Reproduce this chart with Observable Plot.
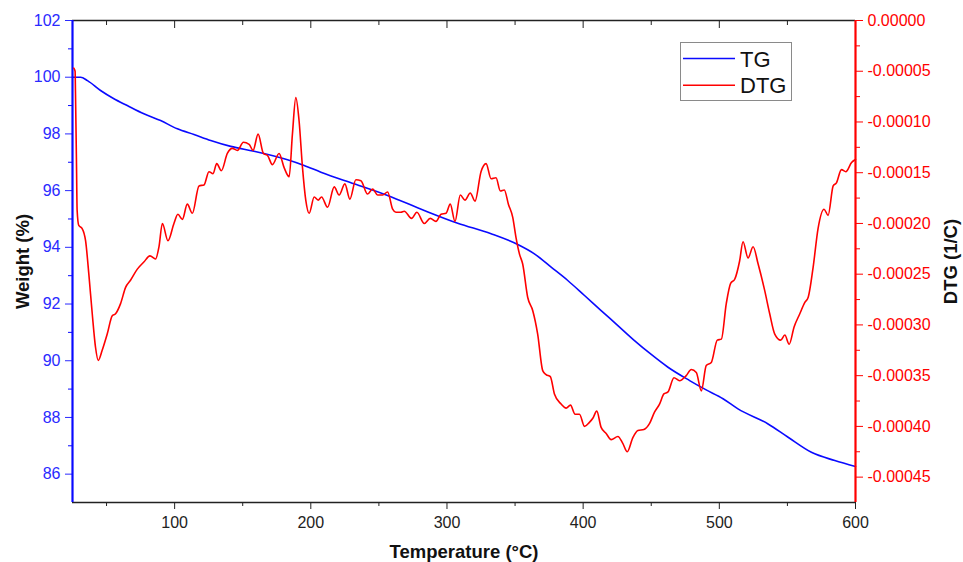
<!DOCTYPE html>
<html>
<head>
<meta charset="utf-8">
<script src="https://cdn.jsdelivr.net/npm/d3@7"></script>
<script src="https://cdn.jsdelivr.net/npm/@observablehq/plot@0.6"></script>
<style>
  body { margin: 0; background: #fff; font-family: "Liberation Sans", Arial, sans-serif; }
  #wrap { position: relative; width: 963px; height: 562px; overflow: hidden; }
  #wrap > svg { position: absolute; left: 0; top: 0; }
  #legend { position: absolute; left: 680px; top: 42px; width: 112px; height: 59px; }
</style>
</head>
<body>
<div id="wrap"></div>
<script>
// ---- data ----
const tempDomain = [25, 600];
const weightDomain = [85, 102];
const dtgDomain = [-0.000475, 0];

const tempTicks = [100, 200, 300, 400, 500, 600];
const tempMinor = [50, 150, 250, 350, 450, 550];
const weightTicks = [86, 88, 90, 92, 94, 96, 98, 100, 102];
const weightMinor = [87, 89, 91, 93, 95, 97, 99, 101];
const dtgTicks = [0, -0.00005, -0.0001, -0.00015, -0.0002, -0.00025, -0.0003, -0.00035, -0.0004, -0.00045];
const dtgMinor = [-0.000025, -0.000075, -0.000125, -0.000175, -0.000225, -0.000275, -0.000325, -0.000375, -0.000425];

const seriesNames = ["TG", "DTG"];

// TG: weight (%) vs temperature (°C)
const tgTemp = [25, 31, 36, 45.6, 55.4, 65.2, 77.4, 89.7, 102, 114.2, 126.5, 141.2, 158.3, 182.9, 195.1, 207.4,
  231.8, 256.4, 283.3, 307.9, 332.4, 352, 364.2, 376.5, 388.7, 401, 413.2, 425.5, 437.7, 450, 462.3, 478.2,
  490, 502.7, 513.7, 535.8, 550.5, 567.6, 584.8, 600];
const tgWeight = [100, 100, 99.88, 99.53, 99.24, 99.0, 98.71, 98.47, 98.18, 97.98, 97.77, 97.56, 97.39, 97.09, 96.89, 96.65,
  96.24, 95.83, 95.3, 94.85, 94.48, 94.1, 93.77, 93.3, 92.83, 92.3, 91.77, 91.24, 90.71, 90.22, 89.77, 89.3,
  88.98, 88.66, 88.3, 87.77, 87.3, 86.77, 86.48, 86.27];

// DTG: 1/C vs temperature (°C)
const dtgTemp = [26.0, 26.9, 27.2, 27.9, 28.4, 29.6, 32.1, 34.6, 37.0, 39.5, 41.9, 43.9, 46.8, 50.5, 54.2, 56.6,
  60.3, 64.0, 67.6, 72.6, 77.4, 81.9, 86.0, 88.5, 91.0, 95.1, 99.5, 102.4, 105.7, 109.3, 113.0, 117.9,
  121.6, 125.2, 128.2, 130.9, 134.3, 138.7, 142.4, 146.1, 150.5, 154.7, 157.6, 161.3, 165.2, 168.2, 171.8,
  176.7, 180.4, 184.1, 186.5, 189.0, 191.4, 193.9, 196.3, 198.8, 202.5, 205.4, 207.9, 212.3, 217.2, 220.8,
  225.0, 228.7, 233.1, 236.8, 241.7, 245.4, 249.0, 252.7, 256.4, 260.1, 262.5, 266.2, 268.6, 274.0, 277.9,
  283.3, 287.7, 291.9, 295.6, 299.3, 302.4, 305.9, 309.8, 313.2, 317.1, 320.6, 325.0, 328.7, 332.4, 336.0,
  339.2, 342.1, 345.1, 348.3, 350.7, 353.2, 355.6, 359.3, 363.0, 366.6, 370.3, 372.8, 375.9, 378.9, 383.8,
  387.5, 390.7, 394.1, 397.3, 401.0, 404.6, 407.1, 410.0, 413.2, 416.9, 420.6, 425.5, 429.2, 432.4, 436.5,
  440.2, 444.6, 448.8, 452.4, 456.1, 459.3, 462.3, 466.7, 470.8, 475.7, 479.4, 483.1, 486.8, 490.4, 494.1,
  498.5, 501.5, 505.1, 508.3, 511.3, 514.9, 517.4, 521.1, 524.8, 528.5, 533.3, 537.0, 540.7, 545.1, 548.1,
  551.3, 554.9, 559.1, 562.7, 565.2, 568.9, 572.5, 576.9, 579.9, 583.6, 586.0, 589.7, 592.9, 597.1, 600.0];
const dtgValue = [-4.7e-5, -5.0e-5, -7.2e-5, -13.8e-5, -18.7e-5, -20.2e-5, -20.5e-5, -21.7e-5, -25.0e-5, -28.9e-5, -32.2e-5, -33.5e-5, -32.5e-5, -30.9e-5, -29.1e-5, -28.9e-5,
  -27.9e-5, -26.3e-5, -25.6e-5, -24.5e-5, -23.8e-5, -23.2e-5, -23.5e-5, -22.3e-5, -20.0e-5, -21.7e-5, -20.0e-5, -19.1e-5, -19.6e-5, -18.1e-5, -19.0e-5, -16.3e-5,
  -16.2e-5, -14.9e-5, -15.1e-5, -14.1e-5, -14.8e-5, -13.1e-5, -12.6e-5, -12.8e-5, -12.0e-5, -12.2e-5, -12.8e-5, -11.2e-5, -13.1e-5, -13.3e-5, -14.2e-5,
  -13.1e-5, -14.5e-5, -15.4e-5, -11.2e-5, -7.6e-5, -9.9e-5, -14.5e-5, -17.7e-5, -19.0e-5, -17.4e-5, -17.7e-5, -17.4e-5, -18.4e-5, -16.4e-5, -17.2e-5,
  -16.1e-5, -17.6e-5, -15.7e-5, -15.8e-5, -17.1e-5, -16.6e-5, -17.2e-5, -17.2e-5, -16.9e-5, -18.6e-5, -18.9e-5, -18.9e-5, -18.8e-5, -19.5e-5, -18.9e-5,
  -20.0e-5, -19.5e-5, -19.8e-5, -19.1e-5, -19.0e-5, -18.1e-5, -19.8e-5, -17.2e-5, -17.7e-5, -17.0e-5, -17.8e-5, -14.9e-5, -14.1e-5, -15.6e-5, -15.5e-5,
  -16.8e-5, -16.7e-5, -18.1e-5, -19.4e-5, -21.4e-5, -23.0e-5, -24.0e-5, -27.3e-5, -28.6e-5, -30.9e-5, -34.5e-5, -34.9e-5, -35.1e-5, -36.8e-5, -37.8e-5,
  -38.2e-5, -37.9e-5, -38.8e-5, -38.8e-5, -40.0e-5, -39.6e-5, -39.2e-5, -38.5e-5, -40.1e-5, -40.7e-5, -41.3e-5, -41.0e-5, -41.7e-5, -42.5e-5, -41.1e-5,
  -40.4e-5, -40.3e-5, -39.7e-5, -38.6e-5, -37.8e-5, -36.8e-5, -36.6e-5, -35.2e-5, -35.5e-5, -35.0e-5, -34.4e-5, -34.7e-5, -36.5e-5, -34.0e-5, -33.7e-5,
  -31.5e-5, -31.4e-5, -27.9e-5, -25.9e-5, -25.5e-5, -23.7e-5, -21.8e-5, -23.4e-5, -22.3e-5, -24.0e-5, -26.6e-5, -28.9e-5, -30.9e-5, -31.5e-5, -31.0e-5,
  -31.9e-5, -30.2e-5, -28.9e-5, -27.8e-5, -27.3e-5, -24.3e-5, -20.5e-5, -18.6e-5, -19.2e-5, -16.3e-5, -16.0e-5, -14.7e-5, -14.9e-5, -14.0e-5, -13.7e-5];

// ---- styling ----
const blue = "#0a0aff", blueText = "#2a2aff", red = "#ff0000", dark = "#222222";
const font = '"Liberation Sans", Arial, sans-serif';
const frame = {width: 963, height: 562, marginLeft: 72, marginRight: 108, marginTop: 20, marginBottom: 60};
const fmtDtg = v => { const r = Math.round(v * 1e5) / 1e5; return r === 0 ? "0.00000" : r.toFixed(5); };
const blank = () => "";

const chartA = Plot.plot({
  ...frame,
  style: {fontFamily: font, fontSize: "16px", background: "white", overflow: "visible"},
  x: {domain: tempDomain},
  y: {domain: weightDomain},
  marks: [
    Plot.axisX({ticks: tempTicks, tickSize: 7, tickPadding: 7, tickFormat: d => String(d), label: null, color: dark, fontSize: 16}),
    Plot.axisX({ticks: tempMinor, tickSize: 4, tickFormat: blank, label: null, color: dark}),
    Plot.axisX({anchor: "top", ticks: tempTicks, tickSize: 7, insetTop: 7, tickFormat: blank, label: null, color: dark}),
    Plot.axisX({anchor: "top", ticks: tempMinor, tickSize: 4, insetTop: 4, tickFormat: blank, label: null, color: dark}),
    Plot.axisY({ticks: weightTicks, tickSize: 7, tickPadding: 5, tickFormat: d => String(d), label: null, color: blueText, fontSize: 16}),
    Plot.axisY({ticks: weightMinor, tickSize: 4, tickFormat: blank, label: null, color: blue}),
    Plot.ruleY([weightDomain[0]], {stroke: dark, strokeWidth: 1.6}),
    Plot.ruleY([weightDomain[1]], {stroke: dark, strokeWidth: 1.6}),
    Plot.ruleX([tempDomain[0]], {stroke: blue, strokeWidth: 2.2}),
    Plot.line(tgTemp, {x: tgTemp, y: tgWeight, stroke: blue, strokeWidth: 1.6, curve: "monotone-x"}),
    Plot.text(["Temperature (°C)"], {frameAnchor: "bottom", dy: 50, lineAnchor: "middle", textAnchor: "middle", fontWeight: "bold", fontSize: 18.5, fill: "#111"}),
    Plot.text(["Weight (%)"], {frameAnchor: "left", dx: -49, rotate: -90, lineAnchor: "middle", textAnchor: "middle", fontWeight: "bold", fontSize: 18.5, fill: "#111"})
  ]
});

const chartB = Plot.plot({
  ...frame,
  style: {fontFamily: font, fontSize: "16px", background: "transparent", overflow: "visible"},
  x: {domain: tempDomain, axis: null},
  y: {domain: dtgDomain},
  marks: [
    Plot.axisY({anchor: "right", ticks: dtgTicks, tickSize: 7, tickPadding: 5, tickFormat: fmtDtg, label: null, color: red, fontSize: 16}),
    Plot.axisY({anchor: "right", ticks: dtgMinor, tickSize: 4, tickFormat: blank, label: null, color: red}),
    Plot.ruleX([tempDomain[1]], {stroke: red, strokeWidth: 2.2}),
    Plot.line(dtgTemp, {x: dtgTemp, y: dtgValue, stroke: red, strokeWidth: 1.6, curve: "monotone-x"}),
    Plot.text(["DTG (1/C)"], {frameAnchor: "right", dx: 96, rotate: -90, lineAnchor: "middle", textAnchor: "middle", fontWeight: "bold", fontSize: 18.5, fill: "#111"})
  ]
});

const wrap = document.getElementById("wrap");
wrap.appendChild(chartA);
wrap.appendChild(chartB);

// legend (drawn inside the plot area, as in the reference)
const leg = d3.create("svg").attr("id", "legend").attr("width", 112).attr("height", 59)
  .style("position", "absolute").style("left", "680px").style("top", "42px").style("overflow", "visible");
leg.append("rect").attr("x", 0.5).attr("y", 0.5).attr("width", 111).attr("height", 58)
  .attr("fill", "white").attr("stroke", "#8a8a8a").attr("stroke-width", 1);
const legColors = [blue, red];
seriesNames.forEach((name, i) => {
  const y = 16.5 + i * 26.7;
  leg.append("line").attr("x1", 3).attr("x2", 55).attr("y1", y).attr("y2", y)
    .attr("stroke", legColors[i]).attr("stroke-width", 1.6);
  leg.append("text").attr("x", 60).attr("y", y + 8.2).text(name)
    .attr("font-family", font).attr("font-size", 22).attr("fill", "#111");
});
wrap.appendChild(leg.node());
</script>
</body>
</html>
